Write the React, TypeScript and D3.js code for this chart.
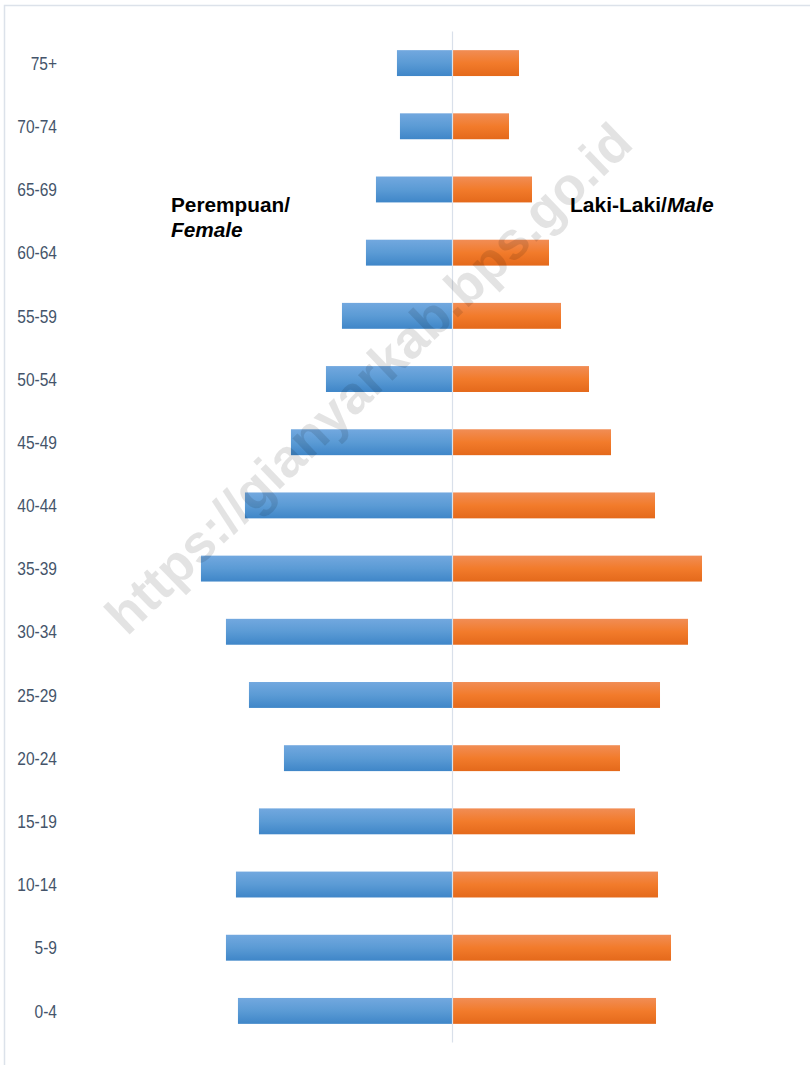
import { useEffect, useRef } from 'react';
import * as d3 from 'd3';

const ageGroups = ['75+', '70-74', '65-69', '60-64', '55-59', '50-54', '45-49', '40-44', '35-39', '30-34', '25-29', '20-24', '15-19', '10-14', '5-9', '0-4'];
const female = [6110, 5780, 8420, 9520, 12160, 13920, 17770, 22830, 27670, 24920, 22390, 18540, 21290, 23820, 24920, 23600];
const male = [7260, 6160, 8690, 10560, 11880, 14960, 17380, 22220, 27390, 25850, 22770, 18370, 20020, 22550, 23980, 22330];

const W = 810;
const H = 1065;

export default function App() {
  const svgRef = useRef<SVGSVGElement>(null);

  useEffect(() => {
    if (!svgRef.current) return;
    const svg = d3.select(svgRef.current);
    svg.selectAll('*').remove();

    const cx = 452.5;
    const half = 272.73;
    const x = d3.scaleLinear().domain([-30000, 30000]).range([cx - half, cx + half]);
    const y = d3.scaleBand<string>()
      .domain(ageGroups)
      .range([31.5, 1042.5])
      .paddingInner(0.59)
      .paddingOuter(0.295);

    const defs = svg.append('defs');
    const grad = (id: string, stops: string[]) => {
      const g = defs.append('linearGradient').attr('id', id)
        .attr('x1', 0).attr('y1', 0).attr('x2', 0).attr('y2', 1);
      stops.forEach((c, i) => g.append('stop').attr('offset', i / (stops.length - 1)).attr('stop-color', c));
    };
    grad('gBlue', ['#72a8df', '#5b9bd5', '#3f86c8']);
    grad('gOrange', ['#f18d55', '#f27b2b', '#e4691b']);

    // frame
    svg.append('rect')
      .attr('x', 4.5).attr('y', 5.5)
      .attr('width', W).attr('height', H)
      .attr('fill', '#fff')
      .attr('stroke', '#dce2ea')
      .attr('stroke-width', 1.5);

    const g = svg.append('g');

    g.selectAll('.f')
      .data(female)
      .enter().append('rect')
      .attr('x', d => x(-d))
      .attr('y', (_d, i) => y(ageGroups[i])!)
      .attr('width', d => x(0) - x(-d) - 0.5)
      .attr('height', y.bandwidth())
      .attr('fill', 'url(#gBlue)');

    g.selectAll('.m')
      .data(male)
      .enter().append('rect')
      .attr('x', x(0) + 0.5)
      .attr('y', (_d, i) => y(ageGroups[i])!)
      .attr('width', d => x(d) - x(0))
      .attr('height', y.bandwidth())
      .attr('fill', 'url(#gOrange)');

    // center axis
    svg.append('line')
      .attr('x1', x(0)).attr('x2', x(0))
      .attr('y1', 31.5).attr('y2', 1042.5)
      .attr('stroke', '#d9e0ea')
      .attr('stroke-width', 1.2);

    // category labels
    svg.selectAll('.lab')
      .data(ageGroups)
      .enter().append('text')
      .attr('transform', d => `translate(57,${y(d)! + y.bandwidth() / 2}) scale(0.84,1)`)
      .attr('dy', '0.36em')
      .attr('text-anchor', 'end')
      .style('font-family', 'Liberation Sans, Arial, sans-serif')
      .style('font-size', '18.5px')
      .attr('fill', '#44546a')
      .text(d => d);

    // series titles
    const fText = svg.append('text')
      .attr('x', 171).attr('y', 212)
      .style('font-family', 'Liberation Sans, Arial, sans-serif')
      .style('font-size', '20.8px')
      .style('font-weight', 'bold')
      .attr('fill', '#000');
    fText.append('tspan').text('Perempuan/');
    fText.append('tspan').attr('x', 171).attr('dy', 25).style('font-style', 'italic').text('Female');

    const mText = svg.append('text')
      .attr('x', 570).attr('y', 212)
      .style('font-family', 'Liberation Sans, Arial, sans-serif')
      .style('font-size', '21px')
      .style('font-weight', 'bold')
      .attr('fill', '#000');
    mText.append('tspan').text('Laki-Laki/');
    mText.append('tspan').style('font-style', 'italic').text('Male');

    // watermark
    svg.append('text')
      .attr('transform', 'translate(127,637) rotate(-44)')
      .style('font-family', 'Liberation Sans, Arial, sans-serif')
      .style('font-size', '53px')
      .style('font-weight', 'bold')
      .attr('fill', '#000')
      .attr('fill-opacity', 0.11)
      .text('https://gianyarkab.bps.go.id');
  }, []);

  return (
    <svg
      ref={svgRef}
      width={W}
      height={H}
      style={{ position: 'absolute', left: 0, top: 0, display: 'block' }}
    ></svg>
  );
}
